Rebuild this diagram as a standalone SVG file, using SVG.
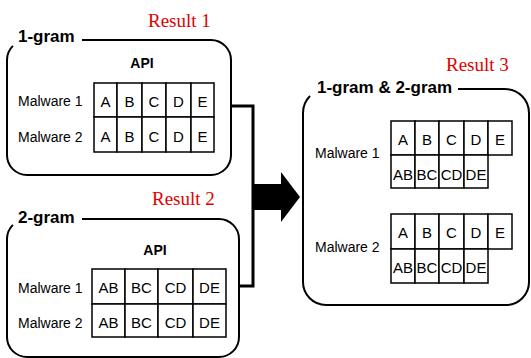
<svg xmlns="http://www.w3.org/2000/svg" width="531" height="358" viewBox="0 0 531 358">
<style>
.box{fill:none;stroke:#000;stroke-width:2}
.cell{fill:#fff;stroke:#000;stroke-width:1.5}
.title{font-family:"Liberation Sans",Arial,sans-serif;font-weight:bold;font-size:17px;fill:#000}
.api{font-family:"Liberation Sans",Arial,sans-serif;font-weight:bold;font-size:14px;fill:#000;text-anchor:middle}
.lbl{font-family:"Liberation Sans",Arial,sans-serif;font-size:14px;fill:#000}
.ct{font-family:"Liberation Sans",Arial,sans-serif;font-size:15px;fill:#000;text-anchor:middle}
.res{font-family:"Liberation Serif","Times New Roman",serif;font-size:19px;fill:#e00000}
.conn{fill:none;stroke:#000;stroke-width:3}
</style>
<rect width="531" height="358" fill="#fff"/>

<g id="connectors">
<polyline class="conn" points="231,106 253,106 253,286 239,286"/>
<polygon points="253,184 281,184 281,172 300,197 281,222 281,210 253,210" fill="#000"/>
</g>

<g id="result1">
<text class="res" x="148" y="27">Result 1</text>
<path class="box" d="M82,40 H211 A20 20 0 0 1 231 60 V155 A20 20 0 0 1 211 175 H27 A20 20 0 0 1 7 155 V60 A20 20 0 0 1 12.9 45.9"/>
<text class="title" x="18" y="42">1-gram</text>
<text class="api" x="142" y="68">API</text>
<text class="lbl" x="18" y="106">Malware 1</text>
<text class="lbl" x="18" y="142">Malware 2</text>
<g>
<rect class="cell" x="94" y="83" width="23" height="34"/>
<rect class="cell" x="117" y="83" width="25" height="34"/>
<rect class="cell" x="142" y="83" width="24" height="34"/>
<rect class="cell" x="166" y="83" width="25" height="34"/>
<rect class="cell" x="191" y="83" width="23" height="34"/>
<rect class="cell" x="94" y="117" width="23" height="35"/>
<rect class="cell" x="117" y="117" width="25" height="35"/>
<rect class="cell" x="142" y="117" width="24" height="35"/>
<rect class="cell" x="166" y="117" width="25" height="35"/>
<rect class="cell" x="191" y="117" width="23" height="35"/>
<text class="ct" x="105.5" y="107">A</text>
<text class="ct" x="129.5" y="107">B</text>
<text class="ct" x="154" y="107">C</text>
<text class="ct" x="178.5" y="107">D</text>
<text class="ct" x="202.5" y="107">E</text>
<text class="ct" x="105.5" y="142">A</text>
<text class="ct" x="129.5" y="142">B</text>
<text class="ct" x="154" y="142">C</text>
<text class="ct" x="178.5" y="142">D</text>
<text class="ct" x="202.5" y="142">E</text>
</g>
</g>

<g id="result2">
<text class="res" x="152" y="205">Result 2</text>
<path class="box" d="M82,219 H219 A20 20 0 0 1 239 239 V337 A20 20 0 0 1 219 357 H27 A20 20 0 0 1 7 337 V239 A20 20 0 0 1 12.9 224.9"/>
<text class="title" x="18" y="223">2-gram</text>
<text class="api" x="155" y="255">API</text>
<text class="lbl" x="18" y="293">Malware 1</text>
<text class="lbl" x="18" y="328">Malware 2</text>
<g>
<rect class="cell" x="92" y="269" width="33" height="35"/>
<rect class="cell" x="125" y="269" width="33" height="35"/>
<rect class="cell" x="158" y="269" width="35" height="35"/>
<rect class="cell" x="193" y="269" width="33" height="35"/>
<rect class="cell" x="92" y="304" width="33" height="33"/>
<rect class="cell" x="125" y="304" width="33" height="33"/>
<rect class="cell" x="158" y="304" width="35" height="33"/>
<rect class="cell" x="193" y="304" width="33" height="33"/>
<text class="ct" x="108.5" y="293">AB</text>
<text class="ct" x="141.5" y="293">BC</text>
<text class="ct" x="175.5" y="293">CD</text>
<text class="ct" x="209.5" y="293">DE</text>
<text class="ct" x="108.5" y="328">AB</text>
<text class="ct" x="141.5" y="328">BC</text>
<text class="ct" x="175.5" y="328">CD</text>
<text class="ct" x="209.5" y="328">DE</text>
</g>
</g>

<g id="result3">
<text class="res" x="446" y="71">Result 3</text>
<path class="box" d="M458,89 H505 A24 24 0 0 1 529 113 V282 A23 23 0 0 1 506 305 H326 A23 23 0 0 1 303 282 V113 A24 24 0 0 1 310 96"/>
<text class="title" x="317" y="93">1-gram &amp; 2-gram</text>
<text class="lbl" x="315" y="158">Malware 1</text>
<text class="lbl" x="315" y="252">Malware 2</text>
<g>
<rect class="cell" x="391" y="121" width="24" height="34"/>
<rect class="cell" x="415" y="121" width="24" height="34"/>
<rect class="cell" x="439" y="121" width="25" height="34"/>
<rect class="cell" x="464" y="121" width="24" height="34"/>
<rect class="cell" x="488" y="121" width="24" height="34"/>
<rect class="cell" x="391" y="155" width="24" height="33"/>
<rect class="cell" x="415" y="155" width="24" height="33"/>
<rect class="cell" x="439" y="155" width="25" height="33"/>
<rect class="cell" x="464" y="155" width="24" height="33"/>
<text class="ct" x="403" y="145">A</text>
<text class="ct" x="427" y="145">B</text>
<text class="ct" x="451.5" y="145">C</text>
<text class="ct" x="476" y="145">D</text>
<text class="ct" x="500" y="145">E</text>
<text class="ct" x="403" y="180">AB</text>
<text class="ct" x="427" y="180">BC</text>
<text class="ct" x="451.5" y="180">CD</text>
<text class="ct" x="476" y="180">DE</text>
</g>
<g>
<rect class="cell" x="391" y="214" width="24" height="35"/>
<rect class="cell" x="415" y="214" width="24" height="35"/>
<rect class="cell" x="439" y="214" width="25" height="35"/>
<rect class="cell" x="464" y="214" width="24" height="35"/>
<rect class="cell" x="488" y="214" width="24" height="35"/>
<rect class="cell" x="391" y="249" width="24" height="34"/>
<rect class="cell" x="415" y="249" width="24" height="34"/>
<rect class="cell" x="439" y="249" width="25" height="34"/>
<rect class="cell" x="464" y="249" width="24" height="34"/>
<text class="ct" x="403" y="238">A</text>
<text class="ct" x="427" y="238">B</text>
<text class="ct" x="451.5" y="238">C</text>
<text class="ct" x="476" y="238">D</text>
<text class="ct" x="500" y="238">E</text>
<text class="ct" x="403" y="273">AB</text>
<text class="ct" x="427" y="273">BC</text>
<text class="ct" x="451.5" y="273">CD</text>
<text class="ct" x="476" y="273">DE</text>
</g>
</g>
</svg>
